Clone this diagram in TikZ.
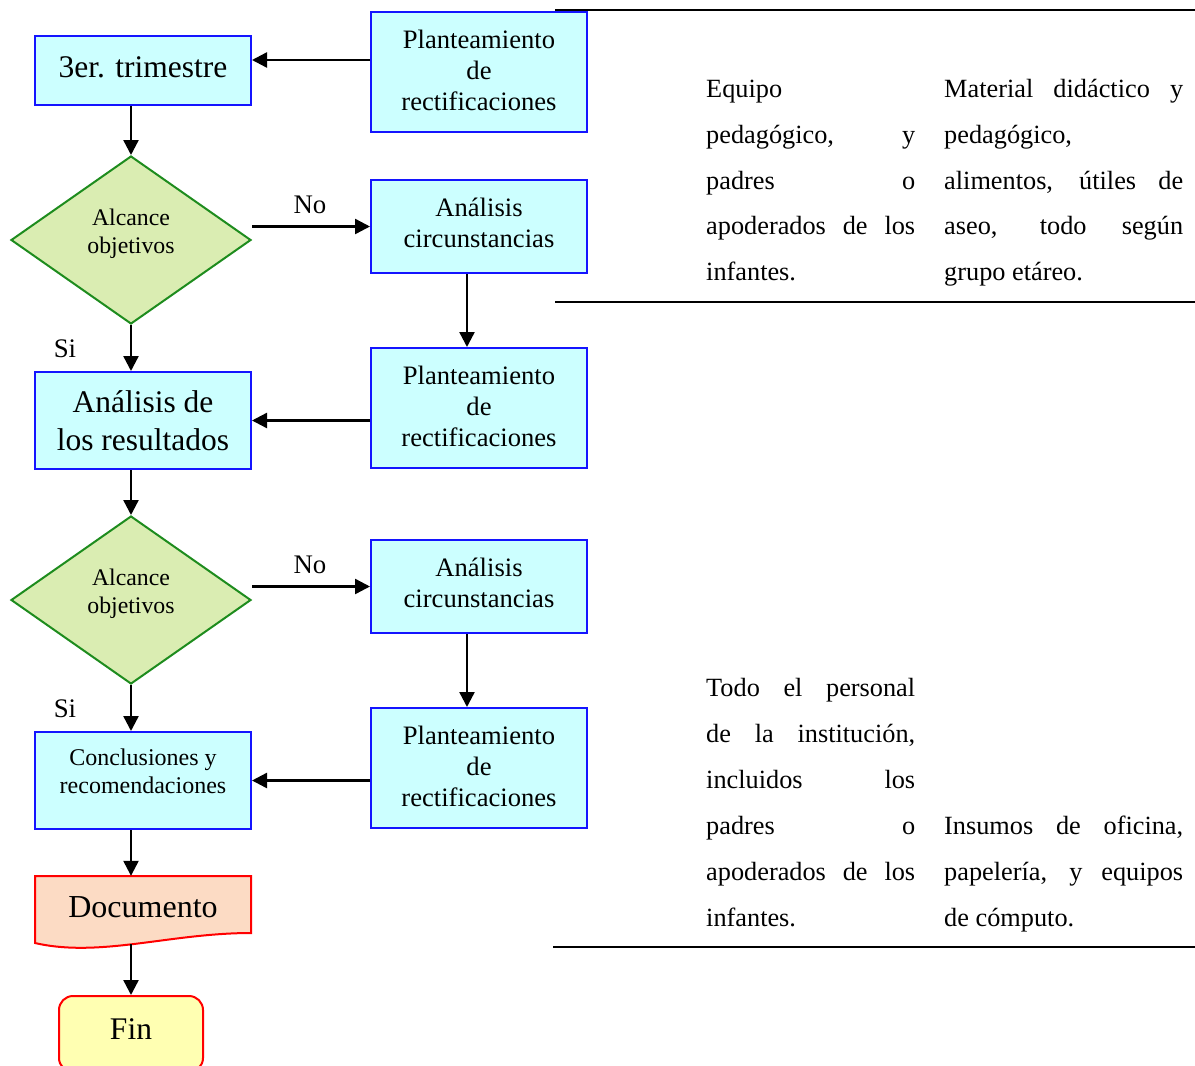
\documentclass[tikz,border=0pt]{standalone}
\usepackage{fontspec}
\setmainfont{Liberation Serif}
\usetikzlibrary{shapes.geometric,arrows.meta}

\definecolor{procfill}{RGB}{204,255,255}
\definecolor{procline}{RGB}{20,20,255}
\definecolor{decfill}{RGB}{218,237,178}
\definecolor{decline}{RGB}{30,140,30}
\definecolor{docfill}{RGB}{252,219,196}
\definecolor{termfill}{RGB}{255,255,178}
\definecolor{redline}{RGB}{255,0,0}

\begin{document}
\begin{tikzpicture}[x=1pt,y=-1pt,
  proc/.style={draw=procline,fill=procfill,line width=2pt,minimum width=216pt,inner sep=0pt},
  dec/.style={diamond,draw=decline,fill=decfill,line width=2pt,minimum width=240pt,
              minimum height=168pt,inner sep=0pt,aspect=1.43},
  term/.style={rounded corners=14pt,draw=redline,fill=termfill,line width=2pt,
               minimum width=144pt,minimum height=76pt,inner sep=0pt},
  lbl/.style={align=center,inner sep=0pt},
  fbig/.style={font=\fontsize{31.5}{38}\selectfont},
  fmid/.style={font=\fontsize{26.6}{31}\selectfont},
  fsmall/.style={font=\fontsize{23.8}{28}\selectfont},
  fyn/.style={inner sep=0pt,font=\fontsize{26.8}{32}\selectfont},
  arr/.style={line width=2.4pt,-{Triangle[length=15pt,width=15pt]}},
  hrule/.style={line width=2.5pt},
  tcell/.style={anchor=base west,inner sep=0pt,font=\fontsize{26.3}{32}\selectfont},
]
\useasboundingbox (0,0) rectangle (1195,1066);
\clip (0,0) rectangle (1195,1066);

% ---- process boxes and their captions ----
\node[proc,minimum height=69pt] (tri) at (143,70.5) {};
\node[lbl,fbig] (triT) at (143,67) {3er. trimestre};

\node[proc,minimum height=120pt] (pl1) at (479,72) {};
\node[lbl,fmid] (pl1T) at (479,70) {Planteamiento\\de\\rectificaciones};

\node[dec] (d1) at (131,240) {};
\node[lbl,fsmall] (d1T) at (131,233.5) {Alcance\\objetivos};

\node[proc,minimum height=93pt] (ac1) at (479,226.5) {};
\node[lbl,fmid] (ac1T) at (479,222.5) {Análisis\\circunstancias};

\node[proc,minimum height=120pt] (pl2) at (479,408) {};
\node[lbl,fmid] (pl2T) at (479,406) {Planteamiento\\de\\rectificaciones};

\node[proc,minimum height=97pt] (res) at (143,420.5) {};
\node[lbl,fbig] (resT) at (143,421) {Análisis de\\los resultados};

\node[dec] (d2) at (131,600) {};
\node[lbl,fsmall] (d2T) at (131,593.5) {Alcance\\objetivos};

\node[proc,minimum height=93pt] (ac2) at (479,586.5) {};
\node[lbl,fmid] (ac2T) at (479,582.5) {Análisis\\circunstancias};

\node[proc,minimum height=120pt] (pl3) at (479,768) {};
\node[lbl,fmid] (pl3T) at (479,766) {Planteamiento\\de\\rectificaciones};

\node[proc,minimum height=97pt] (con) at (143,780.5) {};
\node[lbl,font=\fontsize{24}{28}\selectfont] (conT) at (143,771) {Conclusiones y\\recomendaciones};

% ---- document symbol with wavy lower edge ----
\filldraw[draw=redline,fill=docfill,line width=2pt]
  (35,876) -- (251,876) -- (251,933) .. controls (170,933) and (100,958) .. (35,943) -- cycle;
\node[minimum width=216pt,minimum height=68pt,inner sep=0pt] (doc) at (143,910) {};
\node[lbl,font=\fontsize{32}{38}\selectfont] (docT) at (143,907) {Documento};
\coordinate (docb) at (131,944);

% ---- terminator ----
\node[term] (fin) at (131,1034) {};
\node[lbl,fbig] (finT) at (131,1029) {Fin};

% ---- connectors ----
\draw[arr] ([yshift=12pt]pl1.west) -- ([yshift=12pt]pl1.west -| tri.east);
\draw[arr] (tri.south -| d1.north) -- (d1.north);
\draw[arr] (d1.east |- ac1.west) -- (ac1.west);
\draw[arr] ([xshift=-12pt]ac1.south) -- ([xshift=-12pt]pl2.north);
\draw[arr] (d1.south) -- (d1.south |- res.north);
\draw[arr] (pl2.west |- res.east) -- (res.east);
\draw[arr] (res.south -| d2.north) -- (d2.north);
\draw[arr] (d2.east |- ac2.west) -- (ac2.west);
\draw[arr] ([xshift=-12pt]ac2.south) -- ([xshift=-12pt]pl3.north);
\draw[arr] (d2.south) -- (d2.south |- con.north);
\draw[arr] (pl3.west |- con.east) -- (con.east);
\draw[arr] (con.south -| d2.south) -- (doc.north -| d2.south);
\draw[arr] (docb) -- (fin.north);

% ---- branch labels ----
\node[fyn] (no1) at (310,205) {No};
\node[fyn] (si1) at (65,349) {Si};
\node[fyn] (no2) at (310,565) {No};
\node[fyn] (si2) at (65,709) {Si};

% ---- table rules ----
\draw[hrule] (555,10) -- (1195,10);
\draw[hrule] (555,302) -- (1195,302);
\draw[hrule] (553,947) -- (1195,947);

% ---- table, first row ----
\node[tcell] (r1a1) at (706,97.5)  {Equipo};
\node[tcell] (r1a2) at (706,143.3) {\makebox[209pt][s]{pedagógico, y}};
\node[tcell] (r1a3) at (706,189.1) {\makebox[209pt][s]{padres o}};
\node[tcell] (r1a4) at (706,234.9) {\makebox[209pt][s]{apoderados de los}};
\node[tcell] (r1a5) at (706,280.7) {infantes.};

\node[tcell] (r1b1) at (944,97.5)  {\makebox[239pt][s]{Material didáctico y}};
\node[tcell] (r1b2) at (944,143.3) {pedagógico,};
\node[tcell] (r1b3) at (944,189.1) {\makebox[239pt][s]{alimentos, útiles de}};
\node[tcell] (r1b4) at (944,234.9) {\makebox[239pt][s]{aseo, todo según}};
\node[tcell] (r1b5) at (944,280.7) {grupo etáreo.};

% ---- table, second row ----
\node[tcell] (r2a1) at (706,696.5) {\makebox[209pt][s]{Todo el personal}};
\node[tcell] (r2a2) at (706,742.5) {\makebox[209pt][s]{de la institución,}};
\node[tcell] (r2a3) at (706,788.5) {\makebox[209pt][s]{incluidos los}};
\node[tcell] (r2a4) at (706,834.5) {\makebox[209pt][s]{padres o}};
\node[tcell] (r2a5) at (706,880.5) {\makebox[209pt][s]{apoderados de los}};
\node[tcell] (r2a6) at (706,926.5) {infantes.};

\node[tcell] (r2b4) at (944,834.5) {\makebox[239pt][s]{Insumos de oficina,}};
\node[tcell] (r2b5) at (944,880.5) {\makebox[239pt][s]{papelería, y equipos}};
\node[tcell] (r2b6) at (944,926.5) {de cómputo.};
\end{tikzpicture}
\end{document}
